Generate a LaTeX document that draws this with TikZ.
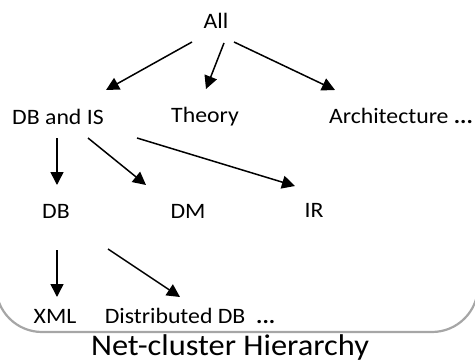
\documentclass[tikz,border=0pt]{standalone}
\usepackage{fontspec}
\setmainfont{Carlito}[FakeStretch=1.08]
\usepackage{xcolor}
\usetikzlibrary{arrows.meta,calc,positioning}
\definecolor{frameline}{HTML}{A6A6A6}
\tikzset{
  catnode/.style={inner sep=0pt, align=center, font=\fontsize{22}{26}\selectfont},
  capnode/.style={inner sep=0pt, anchor=base, font=\fontsize{30}{34}\selectfont},
  treearrow/.style={-{Triangle[length=13pt,width=13pt]}, line width=1.5pt, draw=black},
  framebox/.style={draw=frameline, line width=2.2pt, rounded corners=46pt}
}
\begin{document}
\begin{tikzpicture}[x=1pt,y=-1pt]
  \useasboundingbox (0,0) rectangle (475,364);

  % frame
  \begin{scope}
    \clip (0,0) rectangle (475,364);
    \draw[framebox] (-4,-60) rectangle (478,332);
  \end{scope}

  % nodes
  \node[catnode] (all)    at (216,21)  {All};
  \node[catnode] (dbis)   at (58,117)  {DB and IS};
  \node[catnode] (theory) at (205,117) {Theory};
  \node[catnode] (arch)   at (401,116) {Architecture \textbf{...}};
  \node[catnode] (db)     at (56,211)  {DB};
  \node[catnode] (dm)     at (188,211) {DM};
  \node[catnode] (ir)     at (314,210) {IR};
  \node[catnode] (xml)    at (55,316)  {XML};
  \node[catnode] (dist)   at (190,316) {Distributed DB\ \ \textbf{...}};

  \node[capnode] (title)  at (230,355) {Net-cluster Hierarchy};

  % arrows: top level
  \draw[treearrow] ($(all)+(-24,21)$) -- ($(dbis)+(48,-27)$);
  \draw[treearrow] ($(all)+(8,22)$)   -- ($(theory)+(1,-28)$);
  \draw[treearrow] ($(all)+(18,21)$)  -- ($(arch)+(-66,-26)$);

  % arrows: DB and IS
  \draw[treearrow] ($(dbis)+(-1,21)$) -- ($(db)+(1,-26)$);
  \draw[treearrow] ($(dbis)+(30,21)$) -- ($(dm)+(-42,-26)$);
  \draw[treearrow] ($(dbis)+(79,21)$) -- ($(ir)+(-19,-24)$);

  % arrows: DB
  \draw[treearrow] ($(db)+(1,39)$)  -- ($(xml)+(2,-19)$);
  \draw[treearrow] ($(db)+(52,38)$) -- ($(dist)+(-10,-19)$);

\end{tikzpicture}
\end{document}
